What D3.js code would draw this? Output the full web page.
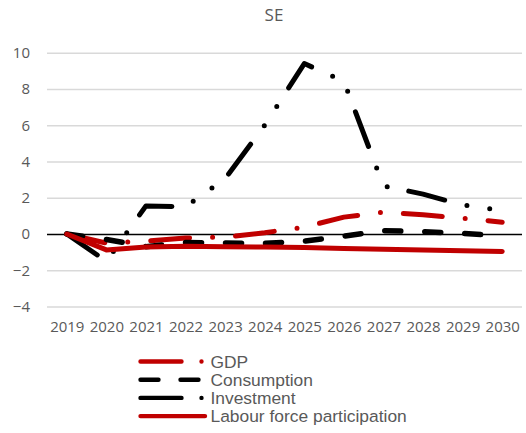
<!DOCTYPE html>
<html>
<head>
<meta charset="utf-8">
<script src="https://cdn.jsdelivr.net/npm/d3@7"></script>
<style>
  html, body { margin: 0; padding: 0; background: #fff; }
  svg { display: block; }
</style>
</head>
<body>
<div id="chart"></div>
<script>
// Annual path, percent deviation from 2019
const years = ["2019","2020","2021","2022","2023","2024","2025","2026","2027","2028","2029","2030"];
const gdp          = [0, -0.5, -0.4, -0.22, -0.17, 0.07, 0.38, 0.93, 1.2, 1.06, 0.87, 0.65];
const consumption  = [0, -0.3, -0.7, -0.47, -0.5, -0.52, -0.4, -0.12, 0.18, 0.13, 0.03, -0.1];
const investment   = [0, -1.5, 1.55, 1.5, 3.05, 6.0, 9.4, 8.42, 2.65, 2.2, 1.6, 1.3];
const labourForce  = [0, -0.88, -0.72, -0.68, -0.7, -0.72, -0.75, -0.8, -0.84, -0.88, -0.92, -0.96];
const yTicks = [-4, -2, 0, 2, 4, 6, 8, 10];
const seriesNames = ["GDP", "Consumption", "Investment", "Labour force participation"];

const W = 526, H = 433;
const RED = "#C00000", BLACK = "#000000", TEXT = "#595959", GRID = "#D9D9D9";

const series = [
  { name: seriesNames[0], values: gdp,         color: RED,   dash: "39,23,0,23",        width: 5 },
  { name: seriesNames[1], values: consumption, color: BLACK, dash: "16,24",             width: 5.5 },
  { name: seriesNames[2], values: investment,  color: BLACK, dash: "37,23,0,23,0,22",   width: 5 },
  { name: seriesNames[3], values: labourForce, color: RED,   dash: null,                width: 5 }
];

const svg = d3.select("#chart").append("svg")
  .attr("width", W).attr("height", H);

const x = d3.scalePoint().domain(years).range([47, 522]).padding(0.5);
const y = d3.scaleLinear().domain([-4, 10]).range([306.5, 52.7]);

// Title
svg.append("text")
  .attr("x", 274).attr("y", 21)
  .attr("text-anchor", "middle")
  .attr("font-family", "'Open Sans', sans-serif")
  .attr("font-size", 17)
  .attr("fill", TEXT)
  .text("SE");

// Horizontal gridlines and y tick labels
const yAxis = d3.axisLeft(y).tickValues(yTicks).tickSize(-(522 - 47)).tickPadding(17);
const gy = svg.append("g").attr("transform", "translate(47,0)").call(yAxis);
gy.select(".domain").remove();
gy.selectAll(".tick line")
  .attr("stroke", d => d === 0 ? BLACK : GRID)
  .attr("stroke-width", d => d === 0 ? 1.6 : 1.4);
gy.selectAll(".tick text")
  .attr("font-family", "'Open Sans', sans-serif")
  .attr("font-size", 15)
  .attr("fill", TEXT);

// Category labels along the bottom
const xAxis = d3.axisBottom(x).tickSize(0).tickPadding(0);
const gx = svg.append("g").attr("transform", "translate(0,321)").call(xAxis);
gx.select(".domain").remove();
gx.selectAll(".tick text")
  .attr("font-family", "'Open Sans', sans-serif")
  .attr("font-size", 15)
  .attr("fill", TEXT)
  .attr("dy", "0.71em");

// Zero line drawn above the gridlines
gy.selectAll(".tick").filter(d => d === 0).raise();

// Series lines
const line = d3.line()
  .x((d, i) => x(years[i]))
  .y(d => y(d));

svg.append("g").selectAll("path")
  .data(series)
  .join("path")
  .attr("d", s => line(s.values))
  .attr("fill", "none")
  .attr("stroke", s => s.color)
  .attr("stroke-width", s => s.width)
  .attr("stroke-linecap", "round")
  .attr("stroke-linejoin", "round")
  .attr("stroke-dasharray", s => s.dash);

// Legend
const legendDash = ["41,20,0,20", "18,22", "41,20,0,20", null];
const lg = svg.append("g");
const rowY = [361.5, 379.7, 397.9, 416.1];
series.forEach((s, i) => {
  const g = lg.append("g").attr("transform", `translate(0,${rowY[i]})`);
  g.append("line")
    .attr("x1", 140.5).attr("x2", 205)
    .attr("y1", 0).attr("y2", 0)
    .attr("stroke", s.color)
    .attr("stroke-width", 4.4)
    .attr("stroke-linecap", "round")
    .attr("stroke-dasharray", legendDash[i]);
  g.append("text")
    .attr("x", 210.5).attr("y", 0)
    .attr("dy", "0.36em")
    .attr("font-family", "'Liberation Sans', Arial, sans-serif")
    .attr("font-size", 17.4)
    .attr("fill", TEXT)
    .text(s.name);
});
</script>
</body>
</html>
